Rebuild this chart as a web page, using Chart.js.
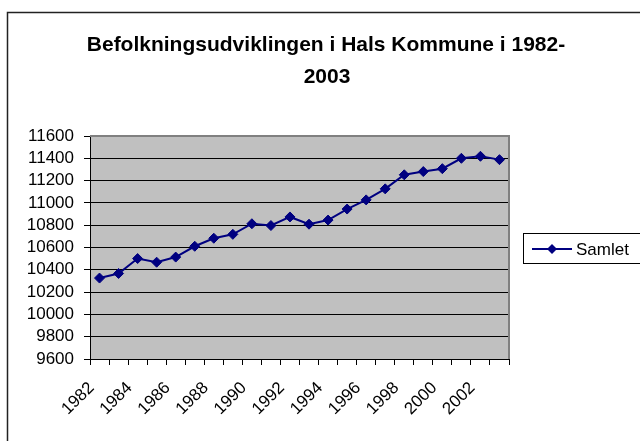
<!DOCTYPE html>
<html>
<head>
<meta charset="utf-8">
<script src="https://cdn.jsdelivr.net/npm/chart.js@4"></script>
<style>
  html, body { margin: 0; padding: 0; background: #fff; }
  canvas { display: block; }
</style>
</head>
<body>
<canvas id="popChart" width="640" height="441"></canvas>
<script>
const years = ['1982', '1983', '1984', '1985', '1986', '1987', '1988', '1989', '1990', '1991', '1992',
  '1993', '1994', '1995', '1996', '1997', '1998', '1999', '2000', '2001', '2002', '2003'];
const samlet = [10326, 10367, 10501, 10468, 10514, 10611, 10683, 10718, 10813, 10797, 10874,
  10809, 10846, 10945, 11027, 11126, 11252, 11281, 11307, 11400, 11418, 11388];
const titleLines = ['Befolkningsudviklingen i Hals Kommune i 1982-', '2003'];
const seriesName = 'Samlet';

const FONT = '"Liberation Sans", Arial, sans-serif';
const navy = '#000080';

// outer frame, plot area fill and border, title, legend box
const excelLook = {
  id: 'excelLook',
  beforeDraw(chart) {
    const ctx = chart.ctx;
    const a = chart.chartArea;
    ctx.save();
    ctx.fillStyle = '#fff';
    ctx.fillRect(0, 0, chart.width, chart.height);
    ctx.strokeStyle = '#222';
    ctx.lineWidth = 1.5;
    ctx.strokeRect(7.5, 12.5, 700, 500);
    ctx.fillStyle = '#c0c0c0';
    ctx.fillRect(a.left, a.top, a.right - a.left, a.bottom - a.top);
    ctx.restore();
  },
  beforeDatasetsDraw(chart) {
    const ctx = chart.ctx;
    const a = chart.chartArea;
    ctx.save();
    ctx.strokeStyle = '#808080';
    ctx.lineWidth = 2;
    ctx.beginPath();
    ctx.moveTo(a.left, a.top);
    ctx.lineTo(a.right, a.top);
    ctx.lineTo(a.right, a.bottom);
    ctx.stroke();
    ctx.restore();
  },
  afterDraw(chart) {
    const ctx = chart.ctx;
    ctx.save();
    // title
    ctx.fillStyle = '#000';
    ctx.font = 'bold 21px ' + FONT;
    ctx.textAlign = 'center';
    ctx.textBaseline = 'alphabetic';
    ctx.fillText(titleLines[0], 326, 51);
    ctx.fillText(titleLines[1], 327, 83);
    // legend
    ctx.strokeStyle = '#000';
    ctx.lineWidth = 1;
    ctx.strokeRect(523.5, 233.5, 130, 30);
    ctx.strokeStyle = navy;
    ctx.lineWidth = 2;
    ctx.beginPath();
    ctx.moveTo(532, 249);
    ctx.lineTo(572, 249);
    ctx.stroke();
    ctx.fillStyle = navy;
    ctx.beginPath();
    ctx.moveTo(552, 244);
    ctx.lineTo(557, 249);
    ctx.lineTo(552, 254);
    ctx.lineTo(547, 249);
    ctx.closePath();
    ctx.fill();
    ctx.fillStyle = '#000';
    ctx.font = '17px ' + FONT;
    ctx.textAlign = 'left';
    ctx.fillText(seriesName, 576, 255);
    ctx.restore();
  }
};

const ctx = document.getElementById('popChart').getContext('2d');
new Chart(ctx, {
  type: 'line',
  data: {
    labels: years,
    datasets: [{
      label: seriesName,
      data: samlet,
      borderColor: navy,
      backgroundColor: navy,
      borderWidth: 2,
      tension: 0,
      pointStyle: 'rectRot',
      pointRadius: 5,
      pointHoverRadius: 5,
      pointBackgroundColor: navy,
      pointBorderColor: navy,
      pointBorderWidth: 1,
    }],
  },
  options: {
    responsive: false,
    animation: false,
    events: [],
    layout: {
      padding: { top: 136, right: 131, left: 0, bottom: 0 },
    },
    plugins: {
      legend: { display: false },
      title: { display: false },
      tooltip: { enabled: false },
    },
    scales: {
      x: {
        type: 'category',
        offset: true,
        afterFit(scale) { scale.height = 82; },
        grid: {
          offset: true,
          drawOnChartArea: false,
          drawTicks: true,
          tickLength: 6,
          color: '#000',
        },
        border: { display: true, color: '#000', width: 1 },
        ticks: {
          autoSkip: false,
          maxRotation: 45,
          minRotation: 45,
          padding: 13,
          labelOffset: -8,
          color: '#000',
          font: { family: FONT, size: 17 },
          callback(value, index) {
            return index % 2 === 0 ? this.getLabelForValue(value) : '';
          },
        },
      },
      y: {
        min: 9600,
        max: 11600,
        afterFit(scale) { scale.width = 90; },
        grid: {
          color: '#000',
          lineWidth: 1,
          tickLength: 6,
        },
        border: { display: true, color: '#000', width: 1 },
        ticks: {
          stepSize: 200,
          autoSkip: false,
          padding: 10,
          color: '#000',
          font: { family: FONT, size: 17 },
          callback: value => String(value),
        },
      },
    },
  },
  plugins: [excelLook],
});
</script>
</body>
</html>
